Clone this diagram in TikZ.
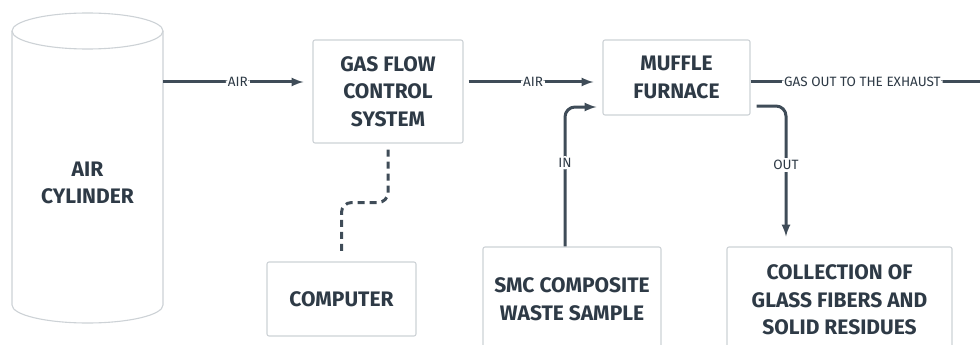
\documentclass[tikz,border=0pt]{standalone}
\usepackage{fontspec}
\setmainfont{Fira Sans}
\usepackage{tikz}
\usetikzlibrary{arrows}
\definecolor{ink}{HTML}{2E3A46}
\definecolor{pipe}{HTML}{3F4C58}
\definecolor{rim}{HTML}{CDD2D6}

\begin{document}
\begin{tikzpicture}[x=1pt, y=-1pt, >=latex,
  unit/.style={draw=rim, line width=1.1pt, rounded corners=2pt, text=ink, align=center, inner sep=0pt,
    font=\fontsize{21}{27.5}\selectfont\bfseries},
  flow/.style={draw=pipe, line width=3pt, rounded corners=10pt},
  lbl/.style={fill=white, text=ink, inner sep=2pt, font=\fontsize{13.5}{15}\selectfont}]
 \clip (0,0) rectangle (980,345);
 % tank
 \draw[rim, line width=1.1pt, fill=white] (12,31) -- (12,305) arc[start angle=180, end angle=360, x radius=75.5pt, y radius=18pt] -- (163,31);
 \draw[rim, line width=1.1pt] (87.5,31) ellipse [x radius=75.5pt, y radius=18pt];
 \node[text=ink, align=center, minimum width=151pt, font=\fontsize{21}{27.5}\selectfont\bfseries] (tank) at (87.5,183) {AIR\\CYLINDER};
 % units
 \node[unit, minimum width=150pt, minimum height=103pt] (gas) at (388,91.5) {GAS FLOW\\CONTROL\\SYSTEM};
 \node[unit, minimum width=147pt, minimum height=75pt] (furnace) at (676.5,77.5) {MUFFLE\\FURNACE};
 \node[unit, minimum width=149pt, minimum height=74pt] (comp) at (341.5,299) {COMPUTER};
 \node[unit, minimum width=178pt, minimum height=104pt] (smc) at (572,299) {SMC COMPOSITE\\WASTE SAMPLE};
 \node[unit, minimum width=225pt, minimum height=106pt] (collect) at (839.5,300) {COLLECTION OF\\GLASS FIBERS AND\\SOLID RESIDUES};
 \coordinate (exhaust) at (985,82);
 % lines
 \draw[flow, ->, shorten >=9pt] (tank.east |- 0,82) -- node[lbl] {AIR} (gas.west |- 0,82);
 \draw[flow, ->, shorten <=5pt, shorten >=9pt] (gas.east |- 0,82) -- node[lbl] {AIR} (furnace.west |- 0,82);
 \draw[flow] (furnace.east |- 0,82) -- node[lbl, pos=0.477] {GAS OUT TO THE EXHAUST} (exhaust);
 \draw[flow, ->, shorten >=6pt] ([xshift=-7pt]smc.north) |- node[lbl, pos=0.3] {IN} (furnace.west |- 0,107);
 \draw[flow, ->, shorten >=10pt] ([xshift=6pt]furnace.east |- 0,106) -| node[lbl, pos=0.71] {OUT} (collect.north -| 786,0);
 \draw[flow, dash pattern=on 7pt off 5pt, shorten <=6pt, shorten >=6pt] (gas.south) -- ++(0,59) -| (comp.north);
\end{tikzpicture}
\end{document}
